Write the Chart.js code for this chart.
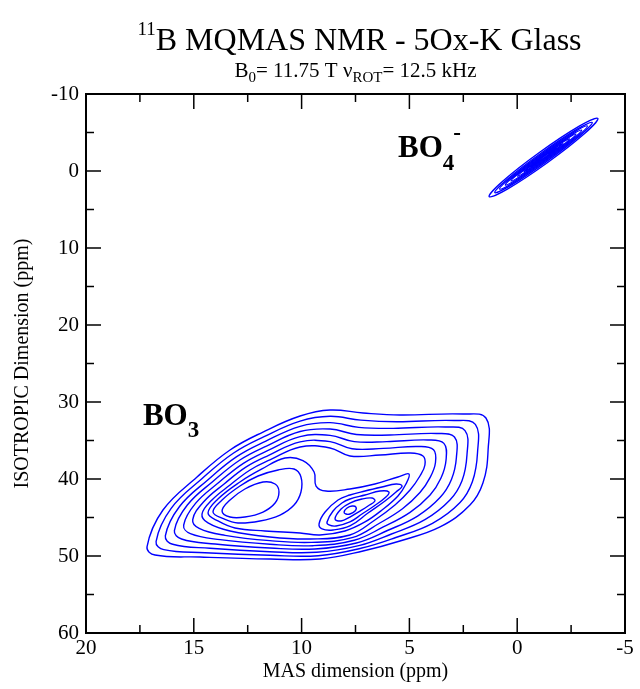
<!DOCTYPE html>
<html>
<head>
<meta charset="utf-8">
<script src="https://cdn.jsdelivr.net/npm/chart.js@4/dist/chart.umd.min.js"></script>
<style>
  html, body { margin: 0; padding: 0; background: #fff; }
  canvas { display: block; }
</style>
</head>
<body>
<canvas id="chart" width="640" height="689"></canvas>
<script>
// Axis ticks (ppm)
const xTickValues = [20, 15, 10, 5, 0, -5];
const xMinorValues = [17.5, 12.5, 7.5, 2.5, -2.5];
const yTickValues = [-10, 0, 10, 20, 30, 40, 50, 60];
const yMinorValues = [-5, 5, 15, 25, 35, 45, 55];

// BO3 site: closed contour lines, [MAS ppm, isotropic ppm], outermost first
const bo3Level1 = [[17.17,48.83],[16.43,44.03],[14.85,39.74],[13.32,36.23],[11.79,33.90],[10.07,31.82],[8.68,31.04],[7.15,31.43],[5.44,31.69],[2.51,31.56],[1.45,32.08],[1.35,36.23],[1.59,40.52],[2.19,43.38],[3.58,46.23],[5.44,48.05],[7.15,49.35],[9.15,50.39],[11.47,50.39],[14.71,50.13],[16.80,49.87]];
const bo3Level2 = [[16.75,48.12],[16.05,43.81],[14.60,39.91],[13.17,36.66],[11.74,34.51],[10.07,32.49],[8.68,31.86],[7.25,32.36],[5.59,32.56],[2.92,32.40],[1.94,32.90],[1.84,36.56],[2.08,40.37],[2.65,43.06],[3.93,45.76],[5.63,47.60],[7.25,49.00],[9.23,49.96],[11.47,49.91],[14.48,49.57],[16.39,49.18]];
const bo3Level3 = [[16.32,47.40],[15.67,43.60],[14.34,40.09],[13.01,37.10],[11.68,35.11],[10.07,33.16],[8.68,32.68],[7.35,33.29],[5.75,33.42],[3.33,33.25],[2.42,33.72],[2.33,36.88],[2.56,40.22],[3.12,42.73],[4.28,45.28],[5.83,47.14],[7.35,48.66],[9.30,49.52],[11.47,49.44],[14.25,49.00],[15.98,48.48]];
const bo3Level4 = [[15.90,46.69],[15.30,43.38],[14.09,40.26],[12.86,37.53],[11.63,35.72],[10.07,33.83],[8.68,33.51],[7.46,34.22],[5.90,34.29],[3.74,34.09],[2.91,34.55],[2.82,37.21],[3.05,40.06],[3.58,42.41],[4.62,44.81],[6.02,46.69],[7.46,48.31],[9.38,49.09],[11.47,48.96],[14.01,48.44],[15.57,47.79]];
const bo3Level5 = [[15.47,45.98],[14.92,43.16],[13.83,40.43],[12.70,37.96],[11.58,36.32],[10.07,34.50],[8.68,34.33],[7.56,35.15],[6.05,35.15],[4.15,34.93],[3.40,35.37],[3.30,37.53],[3.54,39.91],[4.04,42.08],[4.97,44.33],[6.21,46.23],[7.56,47.96],[9.46,48.66],[11.47,48.48],[13.78,47.88],[15.16,47.10]];
const bo3Level6 = [[15.05,45.27],[14.54,42.95],[13.58,40.61],[12.55,38.40],[11.53,36.93],[10.07,35.17],[8.68,35.15],[7.66,36.08],[6.21,36.02],[4.56,35.78],[3.88,36.19],[3.79,37.86],[4.03,39.76],[4.51,41.76],[5.32,43.86],[6.41,45.78],[7.66,47.62],[9.54,48.23],[11.47,48.01],[13.55,47.32],[14.75,46.41]];
const bo3Level7 = [[14.62,44.55],[14.16,42.73],[13.32,40.78],[12.39,38.83],[11.47,37.53],[10.07,35.84],[8.68,35.97],[7.76,37.01],[6.36,36.88],[4.97,36.62],[4.37,37.01],[4.28,38.18],[4.51,39.61],[4.97,41.43],[5.67,43.38],[6.60,45.32],[7.76,47.27],[9.61,47.79],[11.47,47.53],[13.32,46.75],[14.34,45.71]];
// last level that still joins both maxima (pinched between them)
const bo3Neck = [[14.34,44.42],[13.88,42.60],[12.86,40.39],[11.84,38.70],[10.77,37.27],[9.94,37.60],[9.42,39.09],[9.33,40.91],[8.87,41.56],[7.76,41.30],[6.60,40.65],[5.53,39.74],[5.02,39.35],[5.16,40.65],[5.53,42.21],[6.27,44.03],[7.06,45.58],[7.99,46.75],[9.15,47.27],[10.07,47.01],[11.70,46.75],[13.09,46.36],[13.88,45.45]];
// left maximum
const bo3LeftOuter = [[14.11,44.29],[13.69,42.73],[12.86,40.91],[12.02,39.61],[11.09,38.83],[10.35,38.70],[10.03,39.74],[10.03,41.69],[10.35,43.38],[11.00,44.68],[11.93,45.45],[12.95,45.71],[13.60,45.19]];
const bo3LeftInner = [[13.69,44.16],[13.32,42.73],[12.63,41.30],[11.79,40.39],[11.23,40.65],[11.05,41.69],[11.23,43.12],[11.79,44.29],[12.63,44.94],[13.32,44.94]];
// right maximum
const bo3RightA = [[9.19,45.84],[8.91,44.29],[8.31,42.73],[7.76,42.08],[7.06,41.56],[6.27,41.04],[5.62,40.65],[5.34,40.91],[5.62,41.69],[6.13,42.86],[6.92,44.42],[7.76,46.10],[8.54,46.62],[9.05,46.49]];
const bo3RightB = [[8.82,45.58],[8.54,44.16],[8.13,43.12],[7.76,42.60],[7.06,42.08],[6.36,41.56],[5.95,41.69],[6.09,42.34],[6.64,43.51],[7.20,44.55],[7.76,45.58],[8.40,46.10],[8.73,45.97]];
const bo3RightC = [[8.45,45.19],[8.17,43.90],[7.76,43.12],[7.20,42.60],[6.73,42.47],[6.60,42.86],[6.92,43.51],[7.29,44.16],[7.76,44.94],[8.17,45.45]];
const bo3RightCore = [[8.03,44.29],[7.89,43.77],[7.66,43.51],[7.48,43.64],[7.52,44.16],[7.76,44.55],[7.94,44.55]];

// BO4 site: narrow ridge along the diagonal
const bo4Level1 = [[-3.74,-6.83],[-3.126,-4.858],[-1.396,-1.065],[0.438,2.326],[1.30,3.33],[0.686,1.358],[-1.044,-2.435],[-2.878,-5.826]];
const bo4Level2 = [[-3.477,-6.30],[-2.912,-4.595],[-1.355,-1.223],[0.280,1.839],[1.037,2.80],[0.472,1.095],[-1.085,-2.277],[-2.720,-5.339]];
const bo4Level3 = [[-3.251,-5.845],[-2.733,-4.347],[-1.328,-1.329],[0.139,1.443],[0.811,2.345],[0.293,0.847],[-1.112,-2.171],[-2.579,-4.943]];
const bo4Level4 = [[-2.988,-5.314],[-2.531,-4.032],[-1.307,-1.413],[-0.031,1.008],[0.548,1.814],[0.091,0.532],[-1.133,-2.087],[-2.409,-4.508]];
const bo4Level5 = [[-2.725,-4.784],[-2.332,-3.709],[-1.288,-1.487],[-0.204,0.581],[0.285,1.284],[-0.108,0.209],[-1.152,-2.013],[-2.236,-4.081]];
const bo4Level6 = [[-2.424,-4.177],[-2.106,-3.332],[-1.269,-1.560],[-0.404,0.100],[-0.016,0.677],[-0.334,-0.168],[-1.171,-1.940],[-2.036,-3.600]];
const bo4Level7 = [[-2.123,-3.570],[-1.881,-2.948],[-1.253,-1.624],[-0.605,-0.374],[-0.317,0.070],[-0.559,-0.552],[-1.188,-1.876],[-1.835,-3.126]];
const bo4Level8 = [[-1.860,-3.039],[-1.687,-2.601],[-1.242,-1.666],[-0.783,-0.779],[-0.580,-0.461],[-0.753,-0.899],[-1.198,-1.834],[-1.657,-2.721]];

const contourLines = [
  bo3Level1, bo3Level2, bo3Level3, bo3Level4, bo3Level5, bo3Level6, bo3Level7,
  bo3Neck, bo3LeftOuter, bo3LeftInner, bo3RightA, bo3RightB, bo3RightC, bo3RightCore,
  bo4Level1, bo4Level2, bo4Level3, bo4Level4, bo4Level5, bo4Level6, bo4Level7, bo4Level8
];

const CONTOUR_COLOR = '#0000ff';
const SERIF = '"Liberation Serif", "Times New Roman", serif';

// A closed loop is drawn as a smooth open line padded with the neighbouring
// points on both ends; the two padding segments are made invisible so every
// visible joint gets proper spline neighbours.
function closedLoop(points) {
  const n = points.length;
  return [points[n - 1], ...points, points[0], points[1]].map(([x, y]) => ({ x, y }));
}

const datasets = contourLines.map(points => ({
  data: closedLoop(points),
  showLine: true,
  fill: false,
  borderColor: CONTOUR_COLOR,
  borderWidth: 1.4,
  pointRadius: 0,
  pointHoverRadius: 0,
  tension: 0.4,
  segment: {
    borderColor: ctx =>
      (ctx.p0DataIndex === 0 || ctx.p0DataIndex === points.length + 1) ? 'rgba(0,0,0,0)' : undefined
  }
}));

// Frame and inward tick marks on all four sides
const framePlugin = {
  id: 'frame',
  afterDraw(chart) {
    const { ctx, chartArea: { left, right, top, bottom }, scales: { x, y } } = chart;
    const MAJOR = 15, MINOR = 8;
    ctx.save();
    ctx.strokeStyle = '#000';
    ctx.lineCap = 'butt';
    const seg = (x1, y1, x2, y2) => { ctx.beginPath(); ctx.moveTo(x1, y1); ctx.lineTo(x2, y2); ctx.stroke(); };
    ctx.lineWidth = 1.5;
    const xTick = (v, len) => { const p = x.getPixelForValue(v); seg(p, bottom, p, bottom - len); seg(p, top, p, top + len); };
    const yTick = (v, len) => { const p = y.getPixelForValue(v); seg(left, p, left + len, p); seg(right, p, right - len, p); };
    xTickValues.forEach(v => xTick(v, MAJOR));
    xMinorValues.forEach(v => xTick(v, MINOR));
    yTickValues.forEach(v => yTick(v, MAJOR));
    yMinorValues.forEach(v => yTick(v, MINOR));
    ctx.lineWidth = 2;
    ctx.strokeRect(left, top, right - left, bottom - top);
    ctx.restore();
  }
};

// Draws a run of text pieces (with sub/superscripts) on one baseline
function drawRuns(ctx, runs, x, baseline, align) {
  ctx.save();
  ctx.fillStyle = '#000';
  ctx.textBaseline = 'alphabetic';
  ctx.textAlign = 'left';
  const widths = runs.map(r => { ctx.font = (r.bold ? 'bold ' : '') + r.size + 'px ' + SERIF; return ctx.measureText(r.t).width + (r.gap || 0); });
  const total = widths.reduce((a, b) => a + b, 0);
  let cx = align === 'center' ? x - total / 2 : x;
  runs.forEach((r, i) => {
    ctx.font = (r.bold ? 'bold ' : '') + r.size + 'px ' + SERIF;
    ctx.fillText(r.t, cx + (r.dx || 0), baseline + (r.dy || 0));
    cx += widths[i];
  });
  ctx.restore();
}

const textPlugin = {
  id: 'texts',
  afterDraw(chart) {
    const { ctx, chartArea: { left, right, top, bottom }, scales: { x, y } } = chart;
    const midX = (left + right) / 2;
    const midY = (top + bottom) / 2;

    drawRuns(ctx, [
      { t: '11', size: 19, dy: -15 },
      { t: 'B MQMAS NMR - 5Ox-K Glass', size: 32 }
    ], midX + 4, 50, 'center');

    drawRuns(ctx, [
      { t: 'B', size: 21 },
      { t: '0', size: 15, dy: 5 },
      { t: '= 11.75 T ν', size: 21 },
      { t: 'ROT', size: 15, dy: 5 },
      { t: '= 12.5 kHz', size: 21 }
    ], midX, 77, 'center');

    ctx.save();
    ctx.fillStyle = '#000';
    ctx.font = '20px ' + SERIF;
    ctx.textAlign = 'center';
    ctx.textBaseline = 'alphabetic';
    ctx.fillText('MAS dimension (ppm)', midX, 677);
    ctx.translate(28, midY);
    ctx.rotate(-Math.PI / 2);
    ctx.fillText('ISOTROPIC Dimension (ppm)', 0, 0);
    ctx.restore();

    // peak assignments, anchored in data coordinates
    drawRuns(ctx, [
      { t: 'BO', size: 31, bold: true },
      { t: '3', size: 23, bold: true, dy: 12 }
    ], x.getPixelForValue(17.36), y.getPixelForValue(33.0), 'left');

    drawRuns(ctx, [
      { t: 'BO', size: 31, bold: true },
      { t: '4', size: 23, bold: true, dy: 13 },
      { t: '-', size: 23, bold: true, dy: -17, dx: -1 }
    ], x.getPixelForValue(5.53), y.getPixelForValue(-1.82), 'left');
  }
};

const tickFont = { family: SERIF, size: 21 };

new Chart(document.getElementById('chart'), {
  type: 'scatter',
  data: { datasets },
  options: {
    responsive: false,
    animation: false,
    devicePixelRatio: 1,
    layout: { padding: { top: 94, right: 15, left: 0, bottom: 0 } },
    plugins: { legend: { display: false }, tooltip: { enabled: false }, title: { display: false } },
    scales: {
      x: {
        type: 'linear', min: -5, max: 20, reverse: true,
        grid: { display: false, drawTicks: false },
        border: { display: false },
        afterBuildTicks: s => { s.ticks = xTickValues.map(v => ({ value: v })); },
        afterFit: s => { s.height = 56; },
        ticks: { autoSkip: false, maxRotation: 0, minRotation: 0, padding: 3, color: '#000', font: tickFont }
      },
      y: {
        type: 'linear', min: -10, max: 60, reverse: true,
        grid: { display: false, drawTicks: false },
        border: { display: false },
        afterBuildTicks: s => { s.ticks = yTickValues.map(v => ({ value: v })); },
        afterFit: s => { s.width = 86; },
        ticks: { autoSkip: false, padding: 7, color: '#000', font: tickFont }
      }
    }
  },
  plugins: [framePlugin, textPlugin]
});
</script>
</body>
</html>
